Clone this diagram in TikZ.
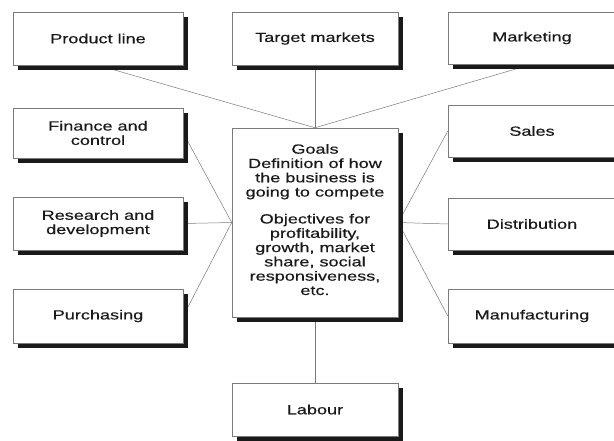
\documentclass[tikz,border=0pt]{standalone}
\usepackage{fontspec}
\setmainfont{Liberation Sans}[FakeStretch=1.36,FakeBold=0.4]
\usepackage{tikz}
\usetikzlibrary{positioning,shadows,backgrounds}
\definecolor{ink}{HTML}{1A1A1A}
\definecolor{rule}{HTML}{7A7A7A}

\begin{document}
\begin{tikzpicture}[x=1pt,y=-1pt,font=\fontsize{13.3}{14.3}\selectfont,
  box/.style={draw=rule,line width=0.5pt,fill=white,inner sep=0pt,align=center,text=ink,
    drop shadow={shadow xshift=4.5pt,shadow yshift=-4.5pt,opacity=1,fill=ink}},
  leftbox/.style={box,minimum width=170pt},
  midbox/.style={box,minimum width=166pt},
  rightbox/.style={box,minimum width=168pt},
  link/.style={draw=rule,line width=0.5pt}]
\useasboundingbox (0,0) rectangle (614,440);
\clip (0,0) rectangle (614,440);
% left column
\node[leftbox,minimum height=53pt] (prod) at (98,38.5) {Product line};
\node[leftbox,minimum height=50pt] (fin) at (98,133) {Finance and\\control};
\node[leftbox,minimum height=53pt] (rd) at (98,223.5) {Research and\\development};
\node[leftbox,minimum height=54pt] (pur) at (98,316) {Purchasing};
% middle column
\node[midbox,minimum height=189pt] (goals) at (315,222.5) {Goals\\Definition of how\\the business is\\going to compete\\[12.6pt]Objectives for\\profitability,\\growth, market\\share, social\\responsiveness,\\etc.\rule[-6pt]{0pt}{0pt}};
\node[midbox,minimum height=53pt] (tgt) at (315,38.5) {Target markets};
\node[midbox,minimum height=53pt] (lab) at (315,409.5) {Labour};
% right column
\node[rightbox,minimum height=52pt] (mkt) at (532,38) {Marketing};
\node[rightbox,minimum height=52pt] (sal) at (532,131) {Sales};
\node[rightbox,minimum height=52pt] (dis) at (532,224) {Distribution};
\node[rightbox,minimum height=54pt] (man) at (532,316) {Manufacturing};
% links to the centre
\begin{scope}[on background layer]
\draw[link] (prod.south) -- (goals.north);
\draw[link] (tgt.south) -- (goals.north);
\draw[link] (mkt.south) -- (goals.north);
\draw[link] (fin.east) -- (goals.west);
\draw[link] (rd.east) -- (goals.west);
\draw[link] (pur.east) -- (goals.west);
\draw[link] (sal.west) -- (goals.east);
\draw[link] (dis.west) -- (goals.east);
\draw[link] (man.west) -- (goals.east);
\draw[link] (goals.south) -- (lab.north);
\end{scope}
\end{tikzpicture}
\end{document}
